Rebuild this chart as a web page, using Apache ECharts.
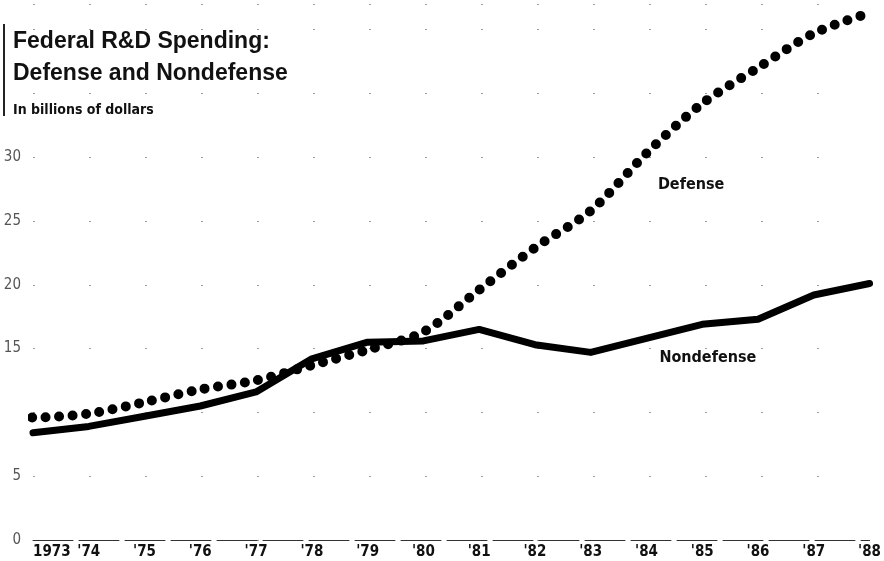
<!DOCTYPE html>
<html>
<head>
<meta charset="utf-8">
<script src="https://cdn.jsdelivr.net/npm/echarts@6/dist/echarts.min.js"></script>
<style>
  html, body { margin: 0; padding: 0; background: #fff; }
  #chart { width: 884px; height: 561px; }
</style>
</head>
<body>
<div id="chart"></div>
<script>
// Years on the x axis and the labels printed under them
const years = [1973, 1974, 1975, 1976, 1977, 1978, 1979, 1980, 1981, 1982, 1983, 1984, 1985, 1986, 1987, 1988];
const yearLabels = ['1973', "'74", "'75", "'76", "'77", "'78", "'79", "'80", "'81", "'82", "'83", "'84", "'85", "'86", "'87", "'88"];

// Billions of dollars
// (defense line starts half a year before 1973 in the original)
const defenseYears = [1972.5, 1973, 1974, 1975, 1976, 1977, 1978, 1979, 1980, 1981, 1982, 1983, 1984, 1985, 1986, 1987, 1988];
const defense = [9.7, 9.6, 9.9, 10.8, 11.8, 12.5, 13.7, 14.9, 16.3, 19.6, 22.9, 25.8, 30.3, 34.2, 37.0, 39.7, 41.3];
const nondefense = [8.4, 8.9, 9.7, 10.5, 11.6, 14.2, 15.5, 15.6, 16.5, 15.3, 14.7, 15.8, 16.9, 17.3, 19.2, 20.1];

// Y tick labels that are printed (10 is hidden under the dots)
const yLabels = [0, 5, 15, 20, 25, 30];

const condensed = "'DejaVu Sans Condensed', 'Liberation Sans Narrow', sans-serif";

const chart = echarts.init(document.getElementById('chart'));

const options = {
    backgroundColor: '#fff',
    animation: false,
    title: [
        {
            text: 'Federal R&D Spending:\nDefense and Nondefense',
            left: 8,
            top: 21,
            textStyle: {
                fontFamily: 'Liberation Sans',
                fontSize: 23,
                fontWeight: 'bold',
                color: '#111',
                lineHeight: 32
            }
        },
        {
            text: 'In billions of dollars',
            left: 8,
            top: 98,
            textStyle: {
                fontFamily: condensed,
                fontSize: 14,
                fontWeight: 'bold',
                color: '#111'
            }
        }
    ],
    graphic: [
        // thin rule left of the title block
        { type: 'rect', shape: { x: 3, y: 24, width: 2, height: 92 }, style: { fill: '#222' } }
    ],
    grid: { left: 33, right: 8, top: 4, bottom: 21 },
    xAxis: {
        type: 'value',
        min: 1973,
        max: 1988,
        interval: 1,
        axisLine: { show: true, lineStyle: { color: '#333', width: 1, type: [40, 6] } },
        axisTick: { show: false },
        splitLine: { show: false },
        axisLabel: {
            margin: 5,
            alignMinLabel: 'left',
            fontFamily: condensed,
            fontWeight: 'bold',
            fontSize: 15,
            color: '#111',
            formatter: v => yearLabels[years.indexOf(v)] || ''
        }
    },
    yAxis: {
        type: 'value',
        min: 0,
        max: 42,
        interval: 5,
        axisLine: { show: false },
        axisTick: { show: false },
        splitLine: { show: true, lineStyle: { color: '#999', width: 1, type: [2, 54] } },
        axisLabel: {
            margin: 12,
            fontFamily: condensed,
            fontSize: 15,
            color: '#555',
            formatter: v => yLabels.includes(v) ? String(v) : ''
        }
    },
    series: [
        {
            name: 'Nondefense',
            type: 'line',
            data: years.map((y, i) => [y, nondefense[i]]),
            symbol: 'none',
            lineStyle: { color: '#000', width: 7, join: 'round', cap: 'round' },
            z: 3,
            markPoint: {
                symbol: 'circle',
                symbolSize: 1,
                itemStyle: { color: 'rgba(0,0,0,0)' },
                label: {
                    show: true,
                    position: 'inside',
                    formatter: 'Nondefense',
                    fontFamily: condensed,
                    fontWeight: 'bold',
                    fontSize: 16,
                    color: '#111'
                },
                data: [{ coord: [1985.1, 14.3] }]
            }
        },
        {
            name: 'Defense',
            type: 'line',
            clip: false,
            smooth: 0.3,
            data: defenseYears.map((y, i) => [y, defense[i]]),
            symbol: 'none',
            lineStyle: { color: '#000', width: 10, type: [0, 13.5], cap: 'round' },
            z: 4,
            markPoint: {
                symbol: 'circle',
                symbolSize: 1,
                itemStyle: { color: 'rgba(0,0,0,0)' },
                label: {
                    show: true,
                    position: 'inside',
                    formatter: 'Defense',
                    fontFamily: condensed,
                    fontWeight: 'bold',
                    fontSize: 16,
                    color: '#111'
                },
                data: [{ coord: [1984.8, 27.8] }]
            }
        }
    ]
};

chart.setOption(options);
</script>
</body>
</html>
